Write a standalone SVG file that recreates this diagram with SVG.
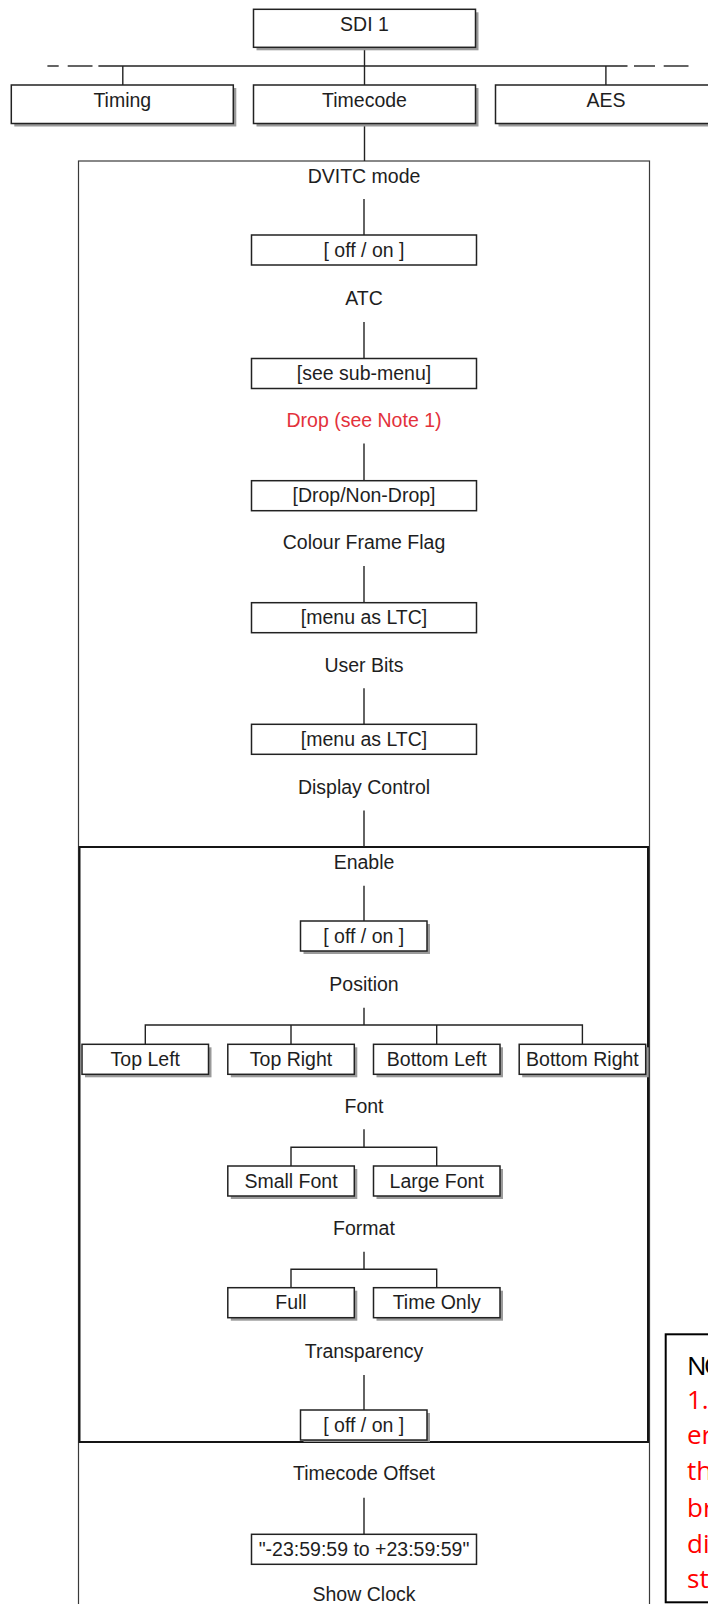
<svg xmlns="http://www.w3.org/2000/svg" width="708" height="1604" viewBox="0 0 708 1604">
<style>
.box{fill:#fff;stroke:#222;stroke-width:1.5}
.sh{fill:#9a9a9a}
.t{font-family:"Liberation Sans",Arial,sans-serif;font-size:19.5px;fill:#1e1e1e;text-anchor:middle}
.red{fill:#e3313b}
.ln{stroke:#222;stroke-width:1.4;fill:none}
.frame{fill:none;stroke:#3a3a3a;stroke-width:1.2}
.frame2{fill:none;stroke:#151515;stroke-width:2}
.note{font-family:"Open Sans","Liberation Sans",sans-serif;font-size:26px}
</style>
<rect width="708" height="1604" fill="#fff"/>

<!-- frames -->
<g id="frames">
<rect class="frame" x="78.5" y="161" width="571" height="1470"/>
<rect class="frame2" x="79.5" y="847" width="568.5" height="595"/>
</g>

<!-- connectors -->
<g id="connectors" class="ln">
<line x1="364.5" y1="47.3" x2="364.5" y2="66"/>
<line x1="47.4" y1="66" x2="58.7" y2="66"/>
<line x1="67.7" y1="66" x2="92.5" y2="66"/>
<line x1="98.4" y1="66" x2="627.5" y2="66"/>
<line x1="634" y1="66" x2="655" y2="66"/>
<line x1="663.7" y1="66" x2="688.5" y2="66"/>
<line x1="122.8" y1="66" x2="122.8" y2="85"/>
<line x1="364.5" y1="66" x2="364.5" y2="85"/>
<line x1="605.9" y1="66" x2="605.9" y2="85"/>
<line x1="364.5" y1="123.5" x2="364.5" y2="161"/>
<line x1="364" y1="199" x2="364" y2="235"/>
<line x1="364" y1="322" x2="364" y2="358.5"/>
<line x1="364" y1="443.5" x2="364" y2="480.7"/>
<line x1="364" y1="566" x2="364" y2="602.7"/>
<line x1="364" y1="688.3" x2="364" y2="724.3"/>
<line x1="364" y1="810.5" x2="364" y2="847"/>
<line x1="364" y1="885.7" x2="364" y2="921"/>
<path d="M364 1007.7V1025M145.3 1044.3V1025H582.4V1044.3M291 1025V1044.3M436.7 1025V1044.3"/>
<path d="M364 1129.3V1147.3M291 1166V1147.3H436.7V1166"/>
<path d="M364 1251.7V1269.3M291 1287.7V1269.3H436.7V1287.7"/>
<line x1="364" y1="1375" x2="364" y2="1410"/>
<line x1="364" y1="1497.7" x2="364" y2="1534.3"/>
</g>

<!-- top level -->
<g id="sdi1">
<rect class="sh" x="256.5" y="12.3" width="222" height="38"/>
<rect class="box" x="253.5" y="9.3" width="222" height="38"/>
<text class="t" x="364.5" y="31">SDI 1</text>
</g>
<g id="timing">
<rect class="sh" x="14.3" y="88" width="222" height="38.5"/>
<rect class="box" x="11.3" y="85" width="222" height="38.5"/>
<text class="t" x="122.3" y="106.5">Timing</text>
</g>
<g id="timecode">
<rect class="sh" x="256.5" y="88" width="222" height="38.5"/>
<rect class="box" x="253.5" y="85" width="222" height="38.5"/>
<text class="t" x="364.5" y="106.5">Timecode</text>
</g>
<g id="aes">
<rect class="sh" x="498.5" y="88" width="222" height="38.5"/>
<rect class="box" x="495.5" y="85" width="222" height="38.5"/>
<text class="t" x="606" y="106.5">AES</text>
</g>

<!-- DVITC section -->
<g id="dvitc-mode"><text class="t" x="364" y="183">DVITC mode</text></g>
<g id="dvitc-offon">
<rect class="box" x="251.5" y="235" width="225" height="30"/>
<text class="t" x="364" y="256.5">[ off / on ]</text>
</g>
<g id="atc"><text class="t" x="364" y="305">ATC</text></g>
<g id="atc-sub">
<rect class="box" x="251.5" y="358.5" width="225" height="30"/>
<text class="t" x="364" y="380">[see sub-menu]</text>
</g>
<g id="drop"><text class="t red" x="364" y="427">Drop (see Note 1)</text></g>
<g id="drop-val">
<rect class="box" x="251.5" y="480.7" width="225" height="30"/>
<text class="t" x="364" y="502">[Drop/Non-Drop]</text>
</g>
<g id="colour-frame"><text class="t" x="364" y="549">Colour Frame Flag</text></g>
<g id="colour-val">
<rect class="box" x="251.5" y="602.7" width="225" height="30"/>
<text class="t" x="364" y="624">[menu as LTC]</text>
</g>
<g id="user-bits"><text class="t" x="364" y="672">User Bits</text></g>
<g id="user-val">
<rect class="box" x="251.5" y="724.3" width="225" height="30"/>
<text class="t" x="364" y="745.5">[menu as LTC]</text>
</g>
<g id="display-control"><text class="t" x="364" y="793.5">Display Control</text></g>

<!-- Display control section -->
<g id="enable"><text class="t" x="364" y="869">Enable</text></g>
<g id="enable-val">
<rect class="sh" x="303.5" y="924" width="126.5" height="30"/>
<rect class="box" x="300.5" y="921" width="126.5" height="30"/>
<text class="t" x="363.7" y="943">[ off / on ]</text>
</g>
<g id="position"><text class="t" x="364" y="991">Position</text></g>
<g id="top-left">
<rect class="sh" x="85" y="1047.3" width="126.5" height="30"/>
<rect class="box" x="82" y="1044.3" width="126.5" height="30"/>
<text class="t" x="145.3" y="1065.5">Top Left</text>
</g>
<g id="top-right">
<rect class="sh" x="230.8" y="1047.3" width="126.5" height="30"/>
<rect class="box" x="227.8" y="1044.3" width="126.5" height="30"/>
<text class="t" x="291" y="1065.5">Top Right</text>
</g>
<g id="bottom-left">
<rect class="sh" x="376.5" y="1047.3" width="126.5" height="30"/>
<rect class="box" x="373.5" y="1044.3" width="126.5" height="30"/>
<text class="t" x="436.7" y="1065.5">Bottom Left</text>
</g>
<g id="bottom-right">
<rect class="sh" x="522.2" y="1047.3" width="126.5" height="30"/>
<rect class="box" x="519.2" y="1044.3" width="126.5" height="30"/>
<text class="t" x="582.4" y="1065.5">Bottom Right</text>
</g>
<g id="font"><text class="t" x="364" y="1113">Font</text></g>
<g id="small-font">
<rect class="sh" x="230.8" y="1169" width="126.5" height="30"/>
<rect class="box" x="227.8" y="1166" width="126.5" height="30"/>
<text class="t" x="291" y="1187.5">Small Font</text>
</g>
<g id="large-font">
<rect class="sh" x="376.5" y="1169" width="126.5" height="30"/>
<rect class="box" x="373.5" y="1166" width="126.5" height="30"/>
<text class="t" x="436.7" y="1187.5">Large Font</text>
</g>
<g id="format"><text class="t" x="364" y="1234.5">Format</text></g>
<g id="full">
<rect class="sh" x="230.8" y="1290.7" width="126.5" height="30"/>
<rect class="box" x="227.8" y="1287.7" width="126.5" height="30"/>
<text class="t" x="291" y="1309">Full</text>
</g>
<g id="time-only">
<rect class="sh" x="376.5" y="1290.7" width="126.5" height="30"/>
<rect class="box" x="373.5" y="1287.7" width="126.5" height="30"/>
<text class="t" x="436.7" y="1309">Time Only</text>
</g>
<g id="transparency"><text class="t" x="364" y="1357.5">Transparency</text></g>
<g id="transparency-val">
<rect class="sh" x="303.5" y="1413" width="126.5" height="29"/>
<rect class="box" x="300.5" y="1410" width="126.5" height="30"/>
<text class="t" x="363.7" y="1431.5">[ off / on ]</text>
</g>

<!-- lower section -->
<g id="timecode-offset"><text class="t" x="364" y="1480">Timecode Offset</text></g>
<g id="offset-val">
<rect class="box" x="251.5" y="1534.3" width="225" height="30"/>
<text class="t" x="364" y="1556">"-23:59:59 to +23:59:59"</text>
</g>
<g id="show-clock"><text class="t" x="364" y="1601">Show Clock</text></g>

<!-- notes -->
<g id="notes">
<rect x="665.7" y="1334.3" width="60" height="268" fill="#fff" stroke="#000" stroke-width="2"/>
<text class="note" x="687" y="1375" fill="#000" letter-spacing="-2.5">NO</text>
<text class="note" x="687" y="1408.5" fill="#ff0000">1.</text>
<text class="note" x="687" y="1444" fill="#ff0000">er</text>
<text class="note" x="687" y="1480" fill="#ff0000">th</text>
<text class="note" x="687" y="1516.5" fill="#ff0000">br</text>
<text class="note" x="687" y="1552.5" fill="#ff0000">di</text>
<text class="note" x="687" y="1588" fill="#ff0000">st</text>
</g>
</svg>
